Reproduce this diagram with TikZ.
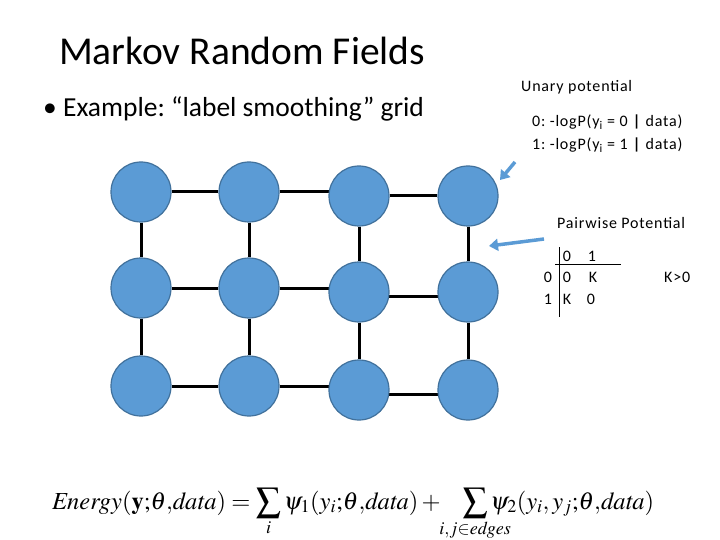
\documentclass[tikz,border=0pt]{standalone}
\usepackage{mathptmx}
\usepackage{mathtools}
\usepackage[no-math]{fontspec}
\setmainfont{Carlito}
\usetikzlibrary{arrows.meta,backgrounds}
\definecolor{nodefill}{HTML}{5B9BD5}
\definecolor{nodedraw}{HTML}{41719C}
\tikzset{
  mrf/.style={circle,fill=nodefill,draw=nodedraw,line width=1.2pt,minimum size=60pt,inner sep=0pt},
  edge/.style={line width=3pt,black},
  callout/.style={line width=3.5pt,nodefill,-{Triangle[length=9pt,width=12pt]}},
  txt/.style={inner sep=0pt,anchor=base west,font=\fontsize{16}{18}\selectfont\addfontfeature{LetterSpace=5}},
}
\frenchspacing
\begin{document}
\begin{tikzpicture}[x=1pt,y=-1pt]
\useasboundingbox (0,0) rectangle (720,540);
% title
\node[inner sep=0pt,anchor=base west,font=\fontsize{39.5}{44}\selectfont] (title) at (59,65) {Markov Random Fields};
\node[inner sep=0pt,anchor=base west,font=\fontsize{27.5}{30}\selectfont] (bullet) at (43,117) {\textbullet\ Example: “label smoothing” grid};
% grid nodes
\node[mrf] (n11) at (141,192) {};
\node[mrf] (n12) at (249,192) {};
\node[mrf] (n13) at (359,196) {};
\node[mrf] (n14) at (468,196) {};
\node[mrf] (n21) at (141,288) {};
\node[mrf] (n22) at (249,288) {};
\node[mrf] (n23) at (359,292) {};
\node[mrf] (n24) at (468,292) {};
\node[mrf] (n31) at (141,386) {};
\node[mrf] (n32) at (249,386) {};
\node[mrf] (n33) at (359,390) {};
\node[mrf] (n34) at (468,390) {};
\begin{scope}[on background layer]
\draw[edge] (n11) -- (n12);
\draw[edge] (n12) -- (n12 -| n13);
\draw[edge] (n13) -- (n14);
\draw[edge] (n21) -- (n22);
\draw[edge] (n22) -- (n22 -| n23);
\draw[edge] (n23.center) ++(0,4) coordinate (r2) (n23 |- r2) -- (n24 |- r2);
\draw[edge] (n31) -- (n32);
\draw[edge] (n32) -- (n32 -| n33);
\draw[edge] (n33) ++(0,4) coordinate (r3) (n33 |- r3) -- (n34 |- r3);
\draw[edge] (n11) -- (n21);
\draw[edge] (n21) -- (n31);
\draw[edge] (n12) -- (n22);
\draw[edge] (n22) -- (n32);
\draw[edge] (n13) -- (n23);
\draw[edge] (n23) -- (n33);
\draw[edge] (n14) -- (n24);
\draw[edge] (n24) -- (n34);
\end{scope}
% unary
\node[txt] (unary) at (521,92) {Unary potential};
\node[txt] (u0) at (532,127) {0: -logP(y\textsubscript{i} = 0 \textbf{|} data)};
\node[txt] (u1) at (532,150) {1: -logP(y\textsubscript{i} = 1 \textbf{|} data)};
\coordinate (ua0) at (515,162);
\coordinate (ua1) at (500,180);
\draw[callout] (ua0) -- (ua1);
% pairwise
\node[txt] (pair) at (557,229) {Pairwise Potential};
\coordinate (pa0) at (544,239);
\coordinate (pa1) at (489,246);
\draw[callout] (pa0) -- (pa1);
\node[txt,anchor=base] (h1) at (567,261) {0};
\node[txt,anchor=base] (h2) at (592,261) {1};
\node[txt,anchor=base] (r1l) at (548,282) {0};
\node[txt,anchor=base] (c11) at (567,282) {0};
\node[txt,anchor=base] (c12) at (593,282) {K};
\node[txt,anchor=base] (r2l) at (548,304) {1};
\node[txt,anchor=base] (c21) at (567,304) {K};
\node[txt,anchor=base] (c22) at (591,304) {0};
\coordinate (vt) at (559,247);
\coordinate (vb) at (559,317);
\coordinate (hl) at (555,264);
\coordinate (hr) at (621,264);
\draw[line width=0.8pt] (vt) -- (vb);
\draw[line width=0.8pt] (hl) -- (hr);
\node[txt] (kgt) at (664,282) {K>0};
% energy
\node[inner sep=0pt,anchor=base west,font=\fontsize{24.5}{27}\selectfont] (energy) at (52,509)
  {$\mathit{Energy}(\mathbf{y}{;}\theta{,}\mathit{data}) = \displaystyle\sum_{i}\psi_1(y_i{;}\theta{,}\mathit{data}) +\hspace{0.75em}\sum_{\mathclap{i,j\in\mathit{edges}}}\psi_2(y_i{,}\,y_j{;}\theta{,}\mathit{data})$};
\end{tikzpicture}
\end{document}
